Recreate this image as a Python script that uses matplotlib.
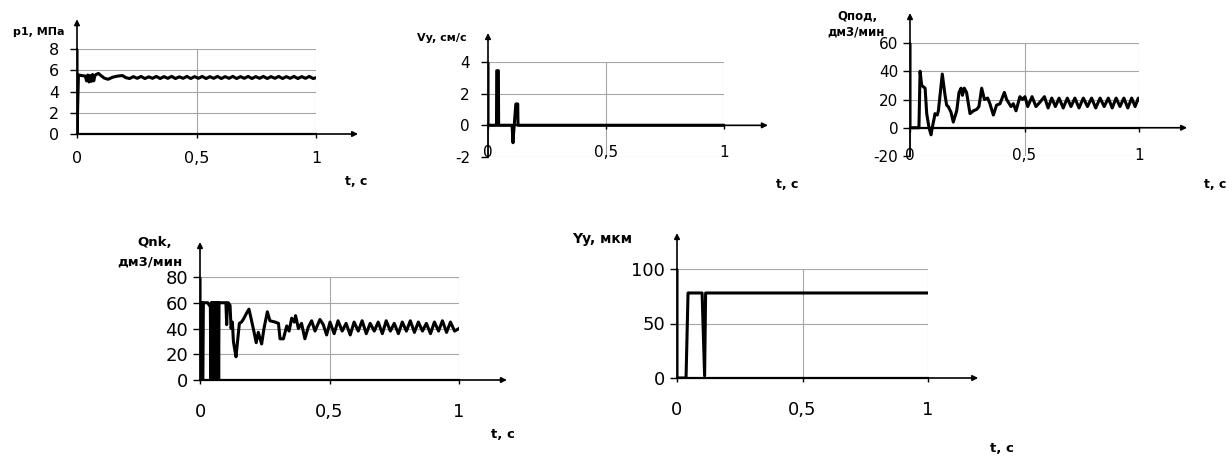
import matplotlib
matplotlib.use('Agg')
import matplotlib.pyplot as plt

plt.rcParams['font.family'] = ['DejaVu Sans']
plt.rcParams['axes.unicode_minus'] = False

# ---- данные ----
x_ticks = [0, 0.5, 1]
x_tick_labels = ['0', '0,5', '1']

# p1, МПа
t_p1 = [0, 0, 0.006, 0.02, 0.035, 0.04, 0.045, 0.05, 0.055, 0.06, 0.065, 0.07, 0.075,
        0.08, 0.09, 0.1, 0.115, 0.13, 0.15, 0.17, 0.19, 0.205,
        0.22, 0.236, 0.252, 0.268, 0.284, 0.3, 0.316, 0.332, 0.348, 0.364,
        0.38, 0.396, 0.412, 0.428, 0.444, 0.46, 0.476, 0.492, 0.508, 0.524,
        0.54, 0.556, 0.572, 0.588, 0.604, 0.62, 0.636, 0.652, 0.668, 0.684,
        0.7, 0.716, 0.732, 0.748, 0.764, 0.78, 0.796, 0.812, 0.828, 0.844,
        0.86, 0.876, 0.892, 0.908, 0.924, 0.94, 0.956, 0.972, 0.988, 1.0]
p1 = [8, 0, 5.55, 5.5, 5.45, 5.0, 5.55, 4.9, 5.5, 4.95, 5.6, 5.0, 5.5,
      5.6, 5.7, 5.5, 5.25, 5.15, 5.35, 5.45, 5.5, 5.3,
      5.22, 5.4, 5.24, 5.42, 5.22, 5.38, 5.24, 5.42, 5.22, 5.4,
      5.24, 5.42, 5.22, 5.38, 5.24, 5.42, 5.22, 5.4, 5.24, 5.42,
      5.22, 5.4, 5.24, 5.42, 5.22, 5.4, 5.24, 5.42, 5.22, 5.4,
      5.24, 5.42, 5.22, 5.4, 5.24, 5.42, 5.22, 5.4, 5.24, 5.42,
      5.22, 5.4, 5.24, 5.42, 5.22, 5.4, 5.24, 5.42, 5.22, 5.3]
p1_yticks = [0, 2, 4, 6, 8]

# Vy, см/с
t_vy = [0, 0, 0.036, 0.037, 0.044, 0.045, 0.102, 0.106, 0.108, 0.118, 0.126, 0.127, 1.0]
vy = [4, 0, 0, 3.45, 3.45, 0, 0, -1.1, -0.6, 1.35, 1.35, 0, 0]
vy_yticks = [-2, 0, 2, 4]

# Qпод, дм3/мин
t_qpod = [0, 0, 0.039, 0.044, 0.051, 0.066, 0.073, 0.083, 0.092, 0.097,
          0.106, 0.109, 0.119, 0.124, 0.141, 0.153, 0.160, 0.167, 0.179, 0.189,
          0.204, 0.214, 0.223, 0.229, 0.237, 0.247, 0.262, 0.277, 0.291, 0.301,
          0.313, 0.325, 0.339, 0.349, 0.364, 0.378, 0.393, 0.412, 0.422, 0.441,
          0.451, 0.463, 0.480, 0.491, 0.502, 0.514,
          0.533, 0.55, 0.567, 0.587, 0.603, 0.619, 0.635, 0.651, 0.669, 0.687,
          0.703, 0.720, 0.738, 0.757, 0.775, 0.793, 0.811, 0.830, 0.848, 0.866,
          0.883, 0.900, 0.917, 0.934, 0.951, 0.968, 0.983, 0.997, 1.0]
q_pod = [60, 0, 0, 40, 30, 28, 10, 0, -5, 0,
         7, 10, 9, 12, 38, 23, 16, 15, 11, 4,
         12, 25, 28, 23, 28, 25, 10, 12, 13, 15,
         28, 20, 21, 17, 9, 16, 17, 25, 20, 15,
         17, 12, 22, 20, 22, 15,
         22, 15, 18, 22, 14, 21, 15, 21, 14, 21,
         15, 21, 14, 21, 15, 21, 14, 21, 15, 21,
         14, 21, 15, 21, 14, 21, 15, 21, 20]
qpod_yticks = [-20, 0, 20, 40, 60]

# Qnk, дм3/мин
t_qnk = [0, 0.001, 0.002, 0.008, 0.009, 0.011, 0.013, 0.03, 0.036, 0.04,
         0.042, 0.0435, 0.045, 0.0465, 0.048, 0.0495, 0.051, 0.0525, 0.054, 0.0555,
         0.057, 0.0585, 0.06, 0.0615, 0.063, 0.0645, 0.066, 0.0675, 0.069, 0.0705,
         0.072, 0.0735,
         0.1, 0.103, 0.106, 0.109, 0.116, 0.12,
         0.125, 0.129, 0.133, 0.139, 0.145, 0.152, 0.16, 0.167, 0.18, 0.189,
         0.197, 0.21, 0.217, 0.225, 0.238, 0.247, 0.26, 0.27, 0.29, 0.303,
         0.309, 0.322, 0.335, 0.344, 0.354, 0.364, 0.369, 0.38, 0.392, 0.405,
         0.418, 0.431, 0.444, 0.463, 0.476, 0.489,
         0.502, 0.518, 0.533, 0.549, 0.564, 0.58, 0.595, 0.611, 0.626, 0.642,
         0.657, 0.673, 0.688, 0.704, 0.719, 0.735, 0.75, 0.766, 0.781, 0.797,
         0.812, 0.828, 0.843, 0.859, 0.874, 0.89, 0.905, 0.921, 0.936, 0.952,
         0.967, 0.983, 1.0]
q_nk = [80, 0, 60, 60, 0, 0, 60, 60, 58, 58,
        0, 60, 0, 60, 0, 60, 0, 60, 0, 60,
        0, 60, 0, 60, 0, 60, 0, 60, 0, 60,
        0, 60,
        60, 43, 60, 60, 58, 40,
        45, 30, 25, 18, 30, 44, 45, 47, 52, 55,
        48, 36, 29, 37, 28, 40, 53, 46, 45, 44,
        32, 32, 42, 38, 48, 45, 50, 40, 44, 32,
        41, 46, 38, 47, 43, 35,
        45, 36, 46, 38, 44, 35, 45, 38, 46, 36,
        44, 38, 45, 36, 46, 38, 44, 36, 45, 38,
        46, 37, 45, 38, 44, 36, 45, 38, 46, 37,
        45, 38, 40]
qnk_yticks = [0, 20, 40, 60, 80]

# Yy, мкм
t_yy = [0, 0, 0.036, 0.044, 0.1, 0.11, 0.114, 1.0]
yy = [100, 0, 0, 78, 78, 2, 78, 78]
yy_yticks = [0, 50, 100]

# ---- рисунок ----
W, H = 1232, 458
fig = plt.figure(figsize=(W / 100, H / 100), dpi=100)


def panel(box, t, v, ylim, yticks, fs, ypad, xpad, arrow_top, x_end):
    l, top, r, b = box
    ax = fig.add_axes([l / W, 1 - b / H, (r - l) / W, (b - top) / H])
    ax.set_xlim(0, 1)
    ax.set_ylim(*ylim)
    ax.set_yticks(yticks)
    ax.set_xticks(x_ticks)
    ax.set_xticklabels(x_tick_labels)
    ax.grid(True, color='#a6a6a6', lw=0.8)
    ax.set_axisbelow(True)
    ax.spines['top'].set_visible(False)
    ax.spines['right'].set_visible(False)
    ax.spines['bottom'].set_position(('data', 0))
    ax.spines['left'].set_linewidth(1.3)
    ax.spines['bottom'].set_linewidth(1.6)
    ax.tick_params(axis='y', direction='out', length=5, width=1, pad=ypad, labelsize=fs)
    ax.tick_params(axis='x', direction='out', length=3, width=1, pad=xpad, labelsize=fs)
    ax.plot(t, v, color='black', lw=2.2)
    arr = dict(arrowstyle='-|>', color='black', lw=1.2, shrinkA=0, shrinkB=0, mutation_scale=8)
    ax.annotate('', xy=(0, arrow_top), xytext=(0, ylim[1]), arrowprops=arr, annotation_clip=False)
    ax.annotate('', xy=(x_end, 0), xytext=(1, 0), arrowprops=arr, annotation_clip=False)
    return ax


def label(x, y, s, fs):
    fig.text(x / W, 1 - y / H, s, ha='center', va='center', fontsize=fs, fontweight='bold')


panel((77, 49, 316, 134), t_p1, p1, (0, 8), p1_yticks, 11.5, 8, 9, 10.8, 1.176)
panel((488, 62, 724, 157), t_vy, vy, (-2, 4), vy_yticks, 11, 8, 11.5, 5.83, 1.186)
panel((910, 43, 1139, 156), t_qpod, q_pod, (-20, 60), qpod_yticks, 11, 3.5, 11.5, 81.2, 1.21)
panel((200, 277, 459, 380), t_qnk, q_nk, (0, 80), qnk_yticks, 13, 3.5, 13.5, 107.2, 1.185)
panel((677, 269, 928, 378), t_yy, yy, (0, 100), yy_yticks, 13, 3.5, 13.5, 133, 1.2)

label(39, 32, 'p1, МПа', 8)
label(356, 182, 't, с', 9)
label(442, 38, 'Vy, см/с', 8)
label(787, 185, 't, с', 9)
label(857, 16, 'Qпод,', 8.5)
label(856, 32, 'дм3/мин', 8.5)
label(1215, 185, 't, с', 9)
label(155, 243, 'Qnk,', 9.5)
label(150, 262, 'дм3/мин', 9.5)
label(503, 435, 't, с', 9.5)
label(602, 239, 'Yy, мкм', 10)
label(1002, 448, 't, с', 9.5)

fig.savefig('out.png', dpi=100)
